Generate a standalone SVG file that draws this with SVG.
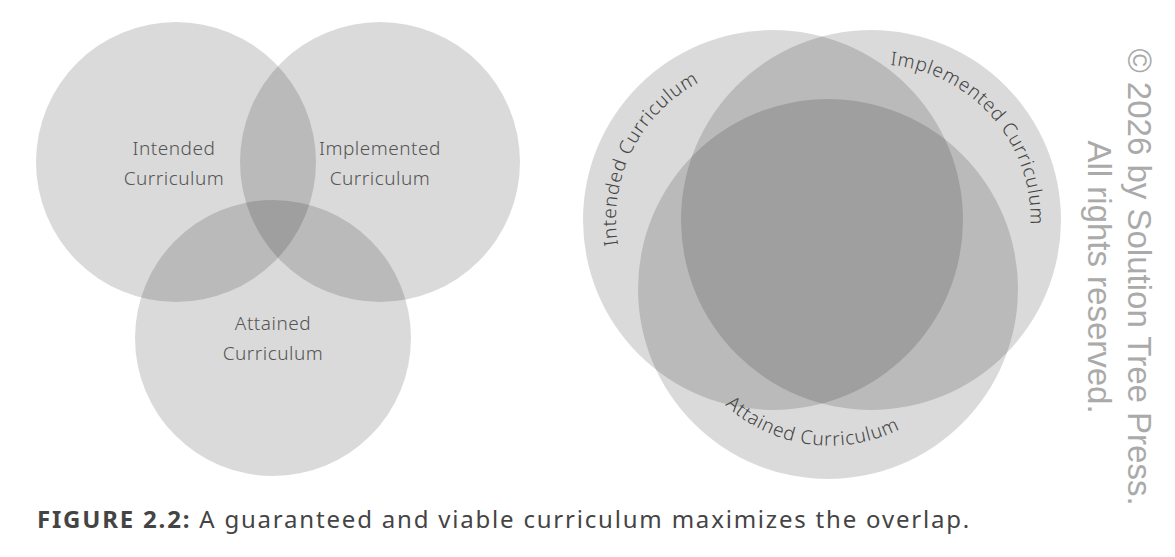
<svg xmlns="http://www.w3.org/2000/svg" width="1175" height="557" viewBox="0 0 1175 557">
<style>
.c{fill:#000;fill-opacity:0.145}
.l{font-family:"Noto Sans",sans-serif;font-weight:300;font-size:19px;fill:#555;text-anchor:middle;letter-spacing:0.5px}
.a{font-family:"Noto Sans",sans-serif;font-weight:300;font-size:19px;fill:#444;letter-spacing:0.8px}
.cp{font-family:"Liberation Sans",sans-serif;font-size:33px;fill:#aaa;text-anchor:middle}
</style>
<defs>
<path id="p1" d="M618,245 A155,155 0 0 1 780,65"/>
<path id="p2" d="M890,65 A155,155 0 0 1 1022,270"/>
<path id="p3" d="M725,405 A156,156 0 0 0 935,405"/>
</defs>
<rect width="1175" height="557" fill="#fff"/>
<g id="intended-left"><circle class="c" cx="176" cy="162" r="140"/><text class="l" x="174" y="155">Intended</text><text class="l" x="174" y="185">Curriculum</text></g>
<g id="implemented-left"><circle class="c" cx="380" cy="162" r="140"/><text class="l" x="380" y="155">Implemented</text><text class="l" x="380" y="185">Curriculum</text></g>
<g id="attained-left"><circle class="c" cx="273" cy="338" r="138"/><text class="l" x="273" y="330">Attained</text><text class="l" x="273" y="360">Curriculum</text></g>
<g id="intended-right"><circle class="c" cx="773" cy="220" r="190"/><text class="a"><textPath href="#p1">Intended Curriculum</textPath></text></g>
<g id="implemented-right"><circle class="c" cx="871" cy="220" r="190"/><text class="a"><textPath href="#p2">Implemented Curriculum</textPath></text></g>
<g id="attained-right"><circle class="c" cx="828" cy="289" r="190"/><text class="a"><textPath href="#p3">Attained Curriculum</textPath></text></g>
<g id="connectors"/>
<text x="37" y="528" font-family="Noto Sans,sans-serif" font-size="24" fill="#444" letter-spacing="1.8"><tspan font-weight="bold">FIGURE 2.2:</tspan> A guaranteed and viable curriculum maximizes the overlap.</text>
<g transform="translate(1128,277) rotate(90)"><text class="cp" x="0" y="0">© 2026 by Solution Tree Press.</text><text class="cp" x="0" y="40">All rights reserved.</text></g>
</svg>
